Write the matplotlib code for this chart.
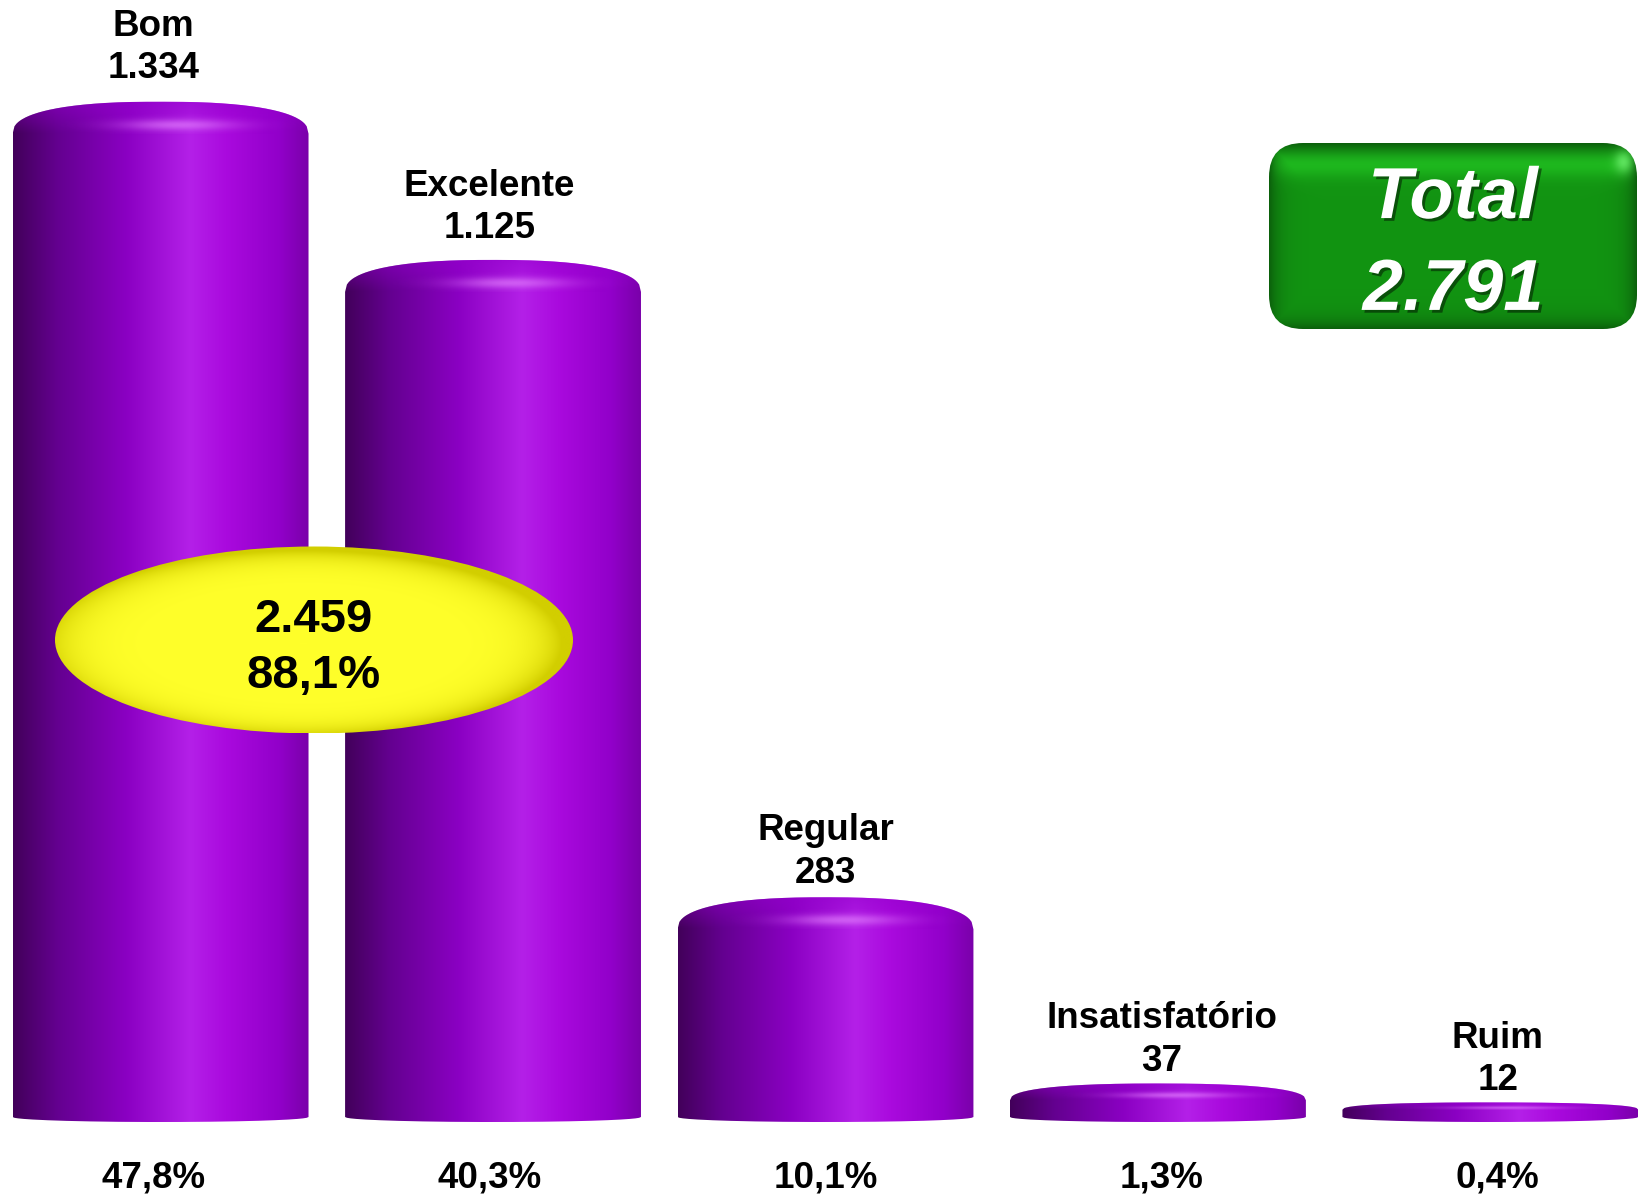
import matplotlib
matplotlib.use('Agg')
import matplotlib.pyplot as plt
import numpy as np
from matplotlib.path import Path
from matplotlib.patches import PathPatch, Ellipse, FancyBboxPatch
from matplotlib.colors import LinearSegmentedColormap, to_rgb
import matplotlib.patheffects as pe

plt.rcParams['font.family'] = ['Liberation Sans', 'DejaVu Sans']

# dados da pesquisa
categorias = ['Bom', 'Excelente', 'Regular', 'Insatisfatório', 'Ruim']
valores = [1334, 1125, 283, 37, 12]
total = sum(valores)                 # 2.791
positivos = valores[0] + valores[1]  # Bom + Excelente


def fmt_milhar(n):
    return f'{n:,}'.replace(',', '.')


def fmt_pct(n):
    return f'{100 * n / total:.1f}%'.replace('.', ',')


fig = plt.figure(figsize=(16.4, 11.99), dpi=100)
ax = fig.add_axes([0, 0, 1, 1])
ax.axis('off')

XLIM = (-0.483, 4.45)
YLIM = (-108.3, 1475.6)
px = 1199 / (YLIM[1] - YLIM[0])   # pixels por unidade no eixo y
largura = 0.89
elev = 5.5 / px                   # meia altura da elipse do topo

roxo = LinearSegmentedColormap.from_list('roxo', [
    (0.0, '#42005a'), (0.15, '#640090'), (0.38, '#8a00c2'),
    (0.6, '#b420e8'), (0.72, '#aa0ade'), (0.9, '#9200ca'), (1.0, '#7a00aa')])


def cilindro(x, v):
    w = largura / 2
    pico = v + elev
    cap = min(32 / px, 0.5 * pico)
    dip = 5 / px
    t = np.linspace(-1, 1, 161)
    n = 2.4
    topo = (pico - cap) + cap * (1 - np.abs(t) ** n) ** (1 / n)
    fundo = -dip * np.sqrt(1 - t ** 2)
    xs = np.concatenate([x + w * t, x + w * t[::-1]])
    ys = np.concatenate([topo, fundo[::-1]])
    verts = np.column_stack([xs, ys])
    patch = PathPatch(Path(verts), fc='none', ec='none')
    ax.add_patch(patch)

    grad = np.linspace(0, 1, 256)[None, :]
    im = ax.imshow(grad, cmap=roxo, extent=[x - w, x + w, -dip, pico],
                   aspect='auto', origin='lower', interpolation='bicubic')
    im.set_clip_path(patch)

    # brilho e sombra na tampa
    nx, ny = 200, 60
    GX, GY = np.meshgrid(np.linspace(-1, 1, nx), np.linspace(0, 1, ny))
    sombra = np.zeros((ny, nx, 4))
    sombra[..., :3] = to_rgb('#9400cc')
    sombra[..., 3] = 0.55 * GY
    brilho = np.zeros((ny, nx, 4))
    brilho[..., :3] = to_rgb('#e480ff')
    brilho[..., 3] = 0.65 * np.exp(-((GX - 0.12) / 0.38) ** 2 - ((GY - 0.28) / 0.18) ** 2)
    for img in (sombra, brilho):
        im2 = ax.imshow(img, extent=[x - w, x + w, pico - cap, pico], aspect='auto',
                        origin='lower', interpolation='bicubic')
        im2.set_clip_path(patch)
    return pico


vmax = max(valores)
for i, (c, v) in enumerate(zip(categorias, valores)):
    pico = cilindro(i, v)
    xt = 2 + (i - 2) * 1.011
    ax.annotate(f'{c}\n{fmt_milhar(v)}', (xt, pico), xytext=(0, 3 + 8 * v / vmax),
                textcoords='offset points', ha='center', va='bottom',
                fontsize=26.5, fontweight='bold', linespacing=1.28)
    ax.text(xt, -81, fmt_pct(v), ha='center', va='center',
            fontsize=26.5, fontweight='bold')

ax.set_xlim(*XLIM)
ax.set_ylim(*YLIM)

# camada em pixels para a elipse e o quadro do total
ov = fig.add_axes([0, 0, 1, 1], zorder=5)
ov.axis('off')
ov.patch.set_alpha(0)

# elipse amarela
ecx, ecy, ew, eh = 314, 640, 518, 187
el = Ellipse((ecx, ecy), ew, eh, fc='none', ec='none')
ov.add_patch(el)
EX, EY = np.meshgrid(np.linspace(-1, 1, 300), np.linspace(-1, 1, 120))
r = np.clip(np.sqrt((EX + 0.04) ** 2 + (EY - 0.04) ** 2), 0, 1.2)
mix = np.clip(r, 0, 1) ** 9
c0, c1 = np.array(to_rgb('#ffff2a')), np.array(to_rgb('#d2ce00'))
amarelo = c0 * (1 - mix[..., None]) + c1 * mix[..., None]
im = ov.imshow(amarelo, extent=[ecx - ew / 2, ecx + ew / 2, ecy + eh / 2, ecy - eh / 2],
               origin='upper', aspect='auto', interpolation='bicubic')
im.set_clip_path(el)
ov.text(ecx, ecy + 8, f'{fmt_milhar(positivos)}\n{fmt_pct(positivos)}',
        ha='center', va='center', fontsize=34, fontweight='bold', linespacing=1.38)

# quadro verde do total
bx, by, bw, bh = 1269, 143, 368, 186
caixa = FancyBboxPatch((bx, by), bw, bh, boxstyle='round,pad=0,rounding_size=34',
                       fc='none', ec='none')
ov.add_patch(caixa)
GX, GY = np.meshgrid(np.linspace(0, 1, 368), np.linspace(0, 1, 186))
borda = np.minimum(np.minimum(GX, 1 - GX) * bw, np.minimum(GY, 1 - GY) * bh)
escuro = np.exp(-borda / 10)
claro = np.exp(-((GY - 0.1) / 0.08) ** 2) * (1 - escuro)
g0 = np.array(to_rgb('#129412'))
verde = g0 * (1 - 0.35 * escuro[..., None]) + np.array(to_rgb('#3cc03c')) * 0.25 * claro[..., None]
# reflexo no canto superior direito
ponto = np.exp(-((GX - 0.965) / 0.025) ** 2 - ((GY - 0.1) / 0.06) ** 2)
verde = verde * (1 - 0.8 * ponto[..., None]) + np.array(to_rgb('#6cf06c')) * 0.8 * ponto[..., None]
verde = np.clip(verde, 0, 1)
im = ov.imshow(verde, extent=[bx, bx + bw, by + bh, by], origin='upper',
               aspect='auto', interpolation='bicubic')
im.set_clip_path(caixa)
ov.text(bx + bw / 2, 245, f'Total\n{fmt_milhar(total)}', ha='center', va='center',
        fontsize=52, fontweight='bold', fontstyle='italic', color='white',
        linespacing=1.45,
        path_effects=[pe.withSimplePatchShadow(offset=(2, -2), shadow_rgbFace='black', alpha=0.45)])

ov.set_xlim(0, 1640)
ov.set_ylim(1199, 0)

fig.savefig('out.png', dpi=100)
